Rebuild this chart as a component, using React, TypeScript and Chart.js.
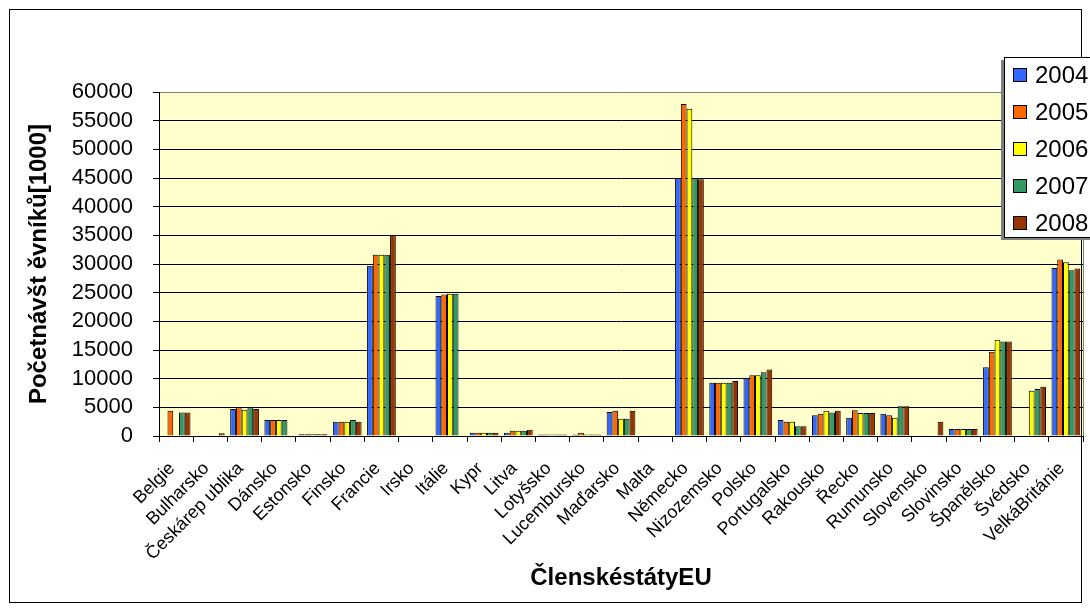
import React, { useEffect, useRef } from "react";
import { Chart, registerables } from "chart.js";

Chart.register(...registerables);

const categories = [
  "Belgie", "Bulharsko", "Českárep ublika", "Dánsko", "Estonsko", "Finsko", "Francie",
  "Irsko", "Itálie", "Kypr", "Litva", "Lotyšsko", "Lucembursko", "Maďarsko", "Malta",
  "Německo", "Nizozemsko", "Polsko", "Portugalsko", "Rakousko", "Řecko", "Rumunsko",
  "Slovensko", "Slovinsko", "Španělsko", "Švédsko", "VelkáBritánie",
];

const years = ["2004", "2005", "2006", "2007", "2008"];

const s2004 = [null, null, 4700, 2800, 300, 2500, 29700, null, 24400, 550, 550, 250, 250, 4200, null, 45000, 9300, 10100, 2800, 3600, 3200, 3900, null, 1200, 12000, null, 29300];
const s2005 = [4400, null, 5000, 2800, 300, 2500, 31600, null, 24700, 550, 900, 250, 550, 4400, null, 57900, 9300, 10600, 2500, 3900, 4500, 3600, null, 1200, 14700, null, 30800];
const s2006 = [null, null, 4600, 2800, 300, 2500, 31600, null, 24800, 550, 900, 250, 250, 3000, null, 57100, 9300, 10600, 2500, 4400, 4000, 3200, null, 1200, 16800, 7900, 30300];
const s2007 = [4100, null, 5000, 2800, 300, 2800, 31600, null, 24800, 550, 900, 250, 250, 3000, null, 45000, 9300, 11100, 1700, 4100, 4000, 5200, null, 1200, 16500, 8200, 28900];
const s2008 = [4100, 500, 4700, null, 300, 2500, 35100, null, null, 550, 1100, 250, 250, 4400, null, 44800, 9600, 11600, 1700, 4400, 4000, 5200, 2500, 1200, 16500, 8600, 29200];

const seriesValues = [s2004, s2005, s2006, s2007, s2008];
const seriesColors = ["#3366FF", "#FF6600", "#FFFF00", "#339966", "#993300"];

const yTitle = "Početnávšt ěvníků[1000]";
const xTitle = "ČlenskéstátyEU";

const FONT = "'Liberation Sans', Arial, sans-serif";

const decorPlugin = {
  id: "decor",
  beforeDraw(chart: any) {
    const { ctx, chartArea } = chart;
    ctx.save();
    ctx.fillStyle = "#FFFFFF";
    ctx.fillRect(0, 0, chart.width, chart.height);
    ctx.fillStyle = "#FFFFCC";
    ctx.fillRect(chartArea.left, chartArea.top, chartArea.right - chartArea.left, chartArea.bottom - chartArea.top);
    ctx.restore();
  },
  afterDraw(chart: any) {
    const { ctx, chartArea } = chart;
    ctx.save();
    ctx.strokeStyle = "#808080";
    ctx.lineWidth = 1;
    ctx.beginPath();
    ctx.moveTo(Math.round(chartArea.right) + 0.5, chartArea.top);
    ctx.lineTo(Math.round(chartArea.right) + 0.5, chartArea.bottom);
    ctx.stroke();
    ctx.strokeStyle = "#000000";
    ctx.strokeRect(9.5, 9.5, 1072, 593);
    const lx = 1004, ly = 57, lw = 100, lh = 180;
    ctx.fillStyle = "#808080";
    ctx.fillRect(lx - 3, ly + 3, lw, lh);
    ctx.fillStyle = "#FFFFFF";
    ctx.fillRect(lx, ly, lw, lh);
    ctx.strokeStyle = "#000000";
    ctx.strokeRect(lx + 0.5, ly + 0.5, lw, lh);
    ctx.font = `24px ${FONT}`;
    ctx.textBaseline = "middle";
    ctx.textAlign = "left";
    chart.data.datasets.forEach((ds: any, i: number) => {
      const cy = 75 + i * 37;
      ctx.fillStyle = ds.backgroundColor;
      ctx.fillRect(1013, cy - 7, 14, 14);
      ctx.strokeStyle = "#000000";
      ctx.strokeRect(1013.5, cy - 6.5, 13, 13);
      ctx.fillStyle = "#000000";
      ctx.fillText(ds.label, 1035, cy + 1);
    });
    ctx.restore();
  },
};

export default function App() {
  const ref = useRef<HTMLCanvasElement | null>(null);
  useEffect(() => {
    if (!ref.current) return;
    const chart = new Chart(ref.current, {
      type: "bar",
      data: {
        labels: categories,
        datasets: years.map((y, i) => ({
          label: y,
          data: seriesValues[i],
          backgroundColor: seriesColors[i],
          borderColor: "#000000",
          borderWidth: 1,
          barPercentage: 1.0,
          categoryPercentage: 0.84,
        })),
      },
      options: {
        animation: false,
        responsive: false,
        layout: { padding: { left: 20, top: 92, right: 7, bottom: 18 } },
        plugins: { legend: { display: false }, tooltip: { enabled: false }, title: { display: false } },
        scales: {
          x: {
            afterFit: (s: any) => { s.height = 157; s.paddingLeft = 0; s.paddingRight = 0; },
            grid: { display: true, drawOnChartArea: false, drawTicks: true, tickLength: 6, color: "#000000", offset: true },
            border: { display: true, color: "#000000", width: 1 },
            ticks: {
              minRotation: 45, maxRotation: 45, autoSkip: false, padding: 16, labelOffset: -4,
              color: "#000000", font: { family: FONT, size: 18 },
            },
            title: { display: true, text: xTitle, color: "#000000", font: { family: FONT, size: 24, weight: "bold" }, padding: { top: 0, bottom: 0 } },
          },
          y: {
            min: 0, max: 60000,
            afterFit: (s: any) => { s.width = 139; s.paddingTop = 0; s.paddingBottom = 0; },
            grid: {
              color: (c: any) => (c.tick && c.tick.value === 60000 ? "#808080" : "#000000"),
              tickColor: "#000000",
              tickLength: 6,
              drawTicks: true,
            },
            border: { display: true, color: "#000000", width: 1 },
            ticks: {
              stepSize: 5000, autoSkip: false, padding: 20, color: "#000000",
              font: { family: FONT, size: 22 },
              callback: (v: any) => String(v),
            },
            title: { display: true, text: yTitle, color: "#000000", font: { family: FONT, size: 24, weight: "bold" }, padding: { top: 5, bottom: 0 } },
          },
        },
      },
      plugins: [decorPlugin],
    });
    return () => chart.destroy();
  }, []);
  return (
    <div style={{ position: "absolute", left: 0, top: 0, width: 1090, height: 611 }}>
      <canvas ref={ref} width={1090} height={611} style={{ width: 1090, height: 611, display: "block" }} />
    </div>
  );
}
